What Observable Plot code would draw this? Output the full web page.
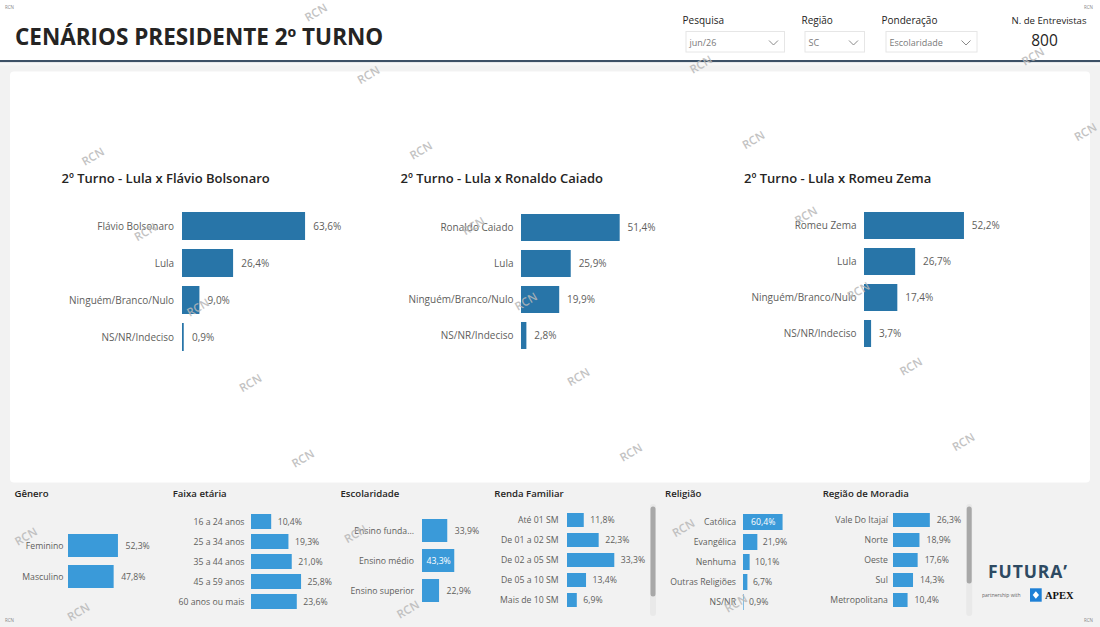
<!DOCTYPE html>
<html lang="pt-BR">
<head>
<meta charset="utf-8">
<script src="https://cdn.jsdelivr.net/npm/d3@7"></script>
<script src="https://cdn.jsdelivr.net/npm/@observablehq/plot@0.6"></script>
<style>
html,body{margin:0;padding:0;background:#f2f2f2;}
#root{position:relative;width:1100px;height:627px;overflow:hidden;background:#f2f2f2;font-family:"Open Sans","Noto Sans",sans-serif;}
#root svg{position:absolute;overflow:visible;}
</style>
</head>
<body>
<div id="root"></div>
<script>
// ---------- DATA ----------
const pageTitle = "CENÁRIOS PRESIDENTE 2º TURNO";
const interviews = 800;

const scenario1Title = "2º Turno - Lula x Flávio Bolsonaro";
const scenario1Cats = ["Flávio Bolsonaro", "Lula", "Ninguém/Branco/Nulo", "NS/NR/Indeciso"];
const scenario1Vals = [63.6, 26.4, 9.0, 0.9];

const scenario2Title = "2º Turno - Lula x Ronaldo Caiado";
const scenario2Cats = ["Ronaldo Caiado", "Lula", "Ninguém/Branco/Nulo", "NS/NR/Indeciso"];
const scenario2Vals = [51.4, 25.9, 19.9, 2.8];

const scenario3Title = "2º Turno - Lula x Romeu Zema";
const scenario3Cats = ["Romeu Zema", "Lula", "Ninguém/Branco/Nulo", "NS/NR/Indeciso"];
const scenario3Vals = [52.2, 26.7, 17.4, 3.7];

const generoCats = ["Feminino", "Masculino"];
const generoVals = [52.3, 47.8];

const faixaCats = ["16 a 24 anos", "25 a 34 anos", "35 a 44 anos", "45 a 59 anos", "60 anos ou mais"];
const faixaVals = [10.4, 19.3, 21.0, 25.8, 23.6];

const escolaridadeCats = ["Ensino fundamental", "Ensino médio", "Ensino superior"];
const escolaridadeVals = [33.9, 43.3, 22.9];

const rendaCats = ["Até 01 SM", "De 01 a 02 SM", "De 02 a 05 SM", "De 05 a 10 SM", "Mais de 10 SM"];
const rendaVals = [11.8, 22.3, 33.3, 13.4, 6.9];

const religiaoCats = ["Católica", "Evangélica", "Nenhuma", "Outras Religiões", "NS/NR"];
const religiaoVals = [60.4, 21.9, 10.1, 6.7, 0.9];

const regiaoCats = ["Vale Do Itajaí", "Norte", "Oeste", "Sul", "Metropolitana"];
const regiaoVals = [26.3, 18.9, 17.6, 14.3, 10.4];

const slicerLabels = ["Pesquisa", "Região", "Ponderação"];
const slicerValues = ["jun/26", "SC", "Escolaridade"];

// ---------- HELPERS ----------
const FONT = '"Open Sans","Noto Sans",sans-serif';
const root = document.getElementById("root");
const NS = "http://www.w3.org/2000/svg";
const fmt = v => v.toFixed(1).replace(".", ",") + "%";

function layer(z) {
  const s = document.createElementNS(NS, "svg");
  s.setAttribute("width", 1100);
  s.setAttribute("height", 627);
  s.style.cssText = `left:0;top:0;z-index:${z};pointer-events:none;`;
  root.appendChild(s);
  return s;
}
function el(parent, tag, attrs, text) {
  const e = document.createElementNS(NS, tag);
  for (const k in attrs) e.setAttribute(k, attrs[k]);
  if (text != null) e.textContent = text;
  parent.appendChild(e);
  return e;
}
function T(parent, x, y, str, size, o = {}) {
  return el(parent, "text", {
    x, y, "font-size": size, "font-family": o.family || FONT,
    "font-weight": o.weight || 400, fill: o.fill || "#252423",
    "text-anchor": o.anchor || "start",
    ...(o.ls ? {"letter-spacing": o.ls} : {}),
    ...(o.transform ? {transform: o.transform} : {}),
    ...(o.opacity ? {opacity: o.opacity} : {})
  }, str);
}

function hbar(o) {
  const n = o.cats.length;
  const pI = 1 - o.barH / o.step;
  const data = o.cats.map((c, i) => ({c, v: o.vals[i]}));
  const inside = o.inside || [];
  const ml = o.marginLeft;
  const r0 = 4, r1 = r0 + o.step * (n - pI);
  const width = ml + 100 * o.k + 60;
  const height = r1 + 4;
  const chart = Plot.plot({
    width, height,
    marginLeft: ml, marginRight: 0, marginTop: 0, marginBottom: 0,
    x: {domain: [0, 100], range: [ml, ml + 100 * o.k], axis: null},
    y: {domain: o.cats, range: [r0, r1], paddingInner: pI, paddingOuter: 0},
    style: {fontFamily: FONT, color: "#605e5c", background: "transparent", overflow: "visible", fontSize: o.fs + "px"},
    marks: [
      Plot.axisY({tickSize: 0, tickPadding: o.pad, fontSize: o.fs, label: null, tickFormat: o.tickFormat || (d => d)}),
      Plot.barX(data, {x: "v", y: "c", fill: o.color}),
      Plot.text(data.filter(d => !inside.includes(d.c)), {
        x: "v", y: "c", text: d => fmt(d.v), dx: o.dx, textAnchor: "start",
        fontSize: o.vfs, fill: "#605e5c"
      }),
      Plot.text(data.filter(d => inside.includes(d.c)), {
        x: d => d.v / 2, y: "c", text: d => fmt(d.v), textAnchor: "middle",
        fontSize: o.vfs, fill: "white"
      })
    ]
  });
  chart.style.position = "absolute";
  chart.style.left = (o.barStart - ml) + "px";
  chart.style.top = (o.firstTop - r0) + "px";
  chart.style.zIndex = 1;
  root.appendChild(chart);
}

// ---------- BACKGROUND / STATIC LAYER ----------
const bg = layer(0);
el(bg, "rect", {x: 0, y: 0, width: 1100, height: 60, fill: "#ffffff"});
el(bg, "rect", {x: 0, y: 60, width: 1100, height: 2.3, fill: "#3d5166"});
el(bg, "rect", {x: 0, y: 62.3, width: 1100, height: 3, fill: "#f7f7f7"});
el(bg, "rect", {x: 10, y: 71.5, width: 1080, height: 411, rx: 4, fill: "#ffffff"});

T(bg, 15, 45, pageTitle, 22.5, {weight: 700, fill: "#252423"});

// slicers
const slicerGeom = [
  {lx: 682.5, bx: 686, bw: 98.5},
  {lx: 801.5, bx: 805, bw: 59.5},
  {lx: 881.5, bx: 886, bw: 91}
];
slicerGeom.forEach((g, i) => {
  T(bg, g.lx, 24, slicerLabels[i], 10, {fill: "#252423"});
  el(bg, "rect", {x: g.bx, y: 31.5, width: g.bw, height: 20.5, fill: "#fff", stroke: "#e6e6e6", "stroke-width": 1});
  T(bg, g.bx + 3.5, 45.5, slicerValues[i], 9, {fill: "#7a7a7a"});
  const cx = g.bx + g.bw - 11, cy = 43;
  el(bg, "polyline", {points: `${cx - 4.5},${cy - 2.5} ${cx},${cy + 2} ${cx + 4.5},${cy - 2.5}`, fill: "none", stroke: "#8a8a8a", "stroke-width": 1});
});
T(bg, 1049, 24, "N. de Entrevistas", 9.6, {anchor: "middle", fill: "#252423"});
T(bg, 1044.5, 46, String(interviews), 15.5, {anchor: "middle", fill: "#252423"});

// chart titles
T(bg, 61.5, 182.5, scenario1Title, 13, {weight: 600});
T(bg, 400.5, 183, scenario2Title, 13, {weight: 600});
T(bg, 744, 182.5, scenario3Title, 13, {weight: 600});

// section titles
[["Gênero", 14.5], ["Faixa etária", 172.7], ["Escolaridade", 340.5], ["Renda Familiar", 494.3], ["Religião", 665], ["Região de Moradia", 822.7]]
  .forEach(([s, x]) => T(bg, x, 497, s, 9.6, {weight: 600}));

// scrollbars
el(bg, "rect", {x: 650, y: 504, width: 6, height: 112, rx: 3, fill: "#e9e9e9"});
el(bg, "rect", {x: 650.5, y: 506.5, width: 5, height: 90, rx: 2.5, fill: "#a8a8a8"});
el(bg, "rect", {x: 966.2, y: 504, width: 6, height: 112, rx: 3, fill: "#e9e9e9"});
el(bg, "rect", {x: 966.7, y: 506.5, width: 5, height: 77, rx: 2.5, fill: "#a8a8a8"});

// logo
T(bg, 988, 577.5, "FUTURA’", 17.5, {weight: 700, fill: "#2e4a62", ls: 0.9});
T(bg, 982, 597, "partnership with", 5, {fill: "#666"});
el(bg, "rect", {x: 1030, y: 588.3, width: 11.7, height: 13.4, fill: "#1e80d6"});
el(bg, "polygon", {points: "1035.85,591.2 1039,595 1035.85,598.8 1032.7,595", fill: "#fff"});
T(bg, 1045, 598.5, "APEX", 10.5, {weight: 700, fill: "#111", family: '"Liberation Serif","DejaVu Serif",serif'});

// tiny corner marks
[[5, 8.5, "start"], [1093, 8.5, "end"], [5, 621.5, "start"], [1093, 621.5, "end"]]
  .forEach(([x, y, a]) => T(bg, x, y, "RCN", 4.5, {fill: "#888", anchor: a}));

// ---------- CHARTS ----------
const TOPC = "#2875a8", BOTC = "#3a9ad9";

hbar({cats: scenario1Cats, vals: scenario1Vals, barStart: 181.7, k: 1.935, firstTop: 212.3, step: 37.1, barH: 27.8,
  marginLeft: 125, pad: 8.4, fs: 10, vfs: 10, dx: 7.7, color: TOPC});
hbar({cats: scenario2Cats, vals: scenario2Vals, barStart: 520.7, k: 1.92, firstTop: 213.3, step: 36.6, barH: 27.4,
  marginLeft: 125, pad: 8, fs: 10, vfs: 10, dx: 7.4, color: TOPC});
hbar({cats: scenario3Cats, vals: scenario3Vals, barStart: 864, k: 1.915, firstTop: 212.3, step: 36.1, barH: 27,
  marginLeft: 125, pad: 8, fs: 10, vfs: 10, dx: 7.4, color: TOPC});

hbar({cats: generoCats, vals: generoVals, barStart: 68.3, k: 0.955, firstTop: 533.3, step: 31.7, barH: 23.3,
  marginLeft: 60, pad: 5, fs: 8.7, vfs: 8.7, dx: 7, color: BOTC});
hbar({cats: faixaCats, vals: faixaVals, barStart: 250.5, k: 1.94, firstTop: 513.5, step: 20.1, barH: 15.5,
  marginLeft: 80, pad: 7, fs: 8.7, vfs: 8.7, dx: 6, color: BOTC});
hbar({cats: escolaridadeCats, vals: escolaridadeVals, barStart: 422, k: 0.745, firstTop: 518.3, step: 30.8, barH: 23.4,
  marginLeft: 80, pad: 8.5, fs: 8.7, vfs: 8.7, dx: 7, color: BOTC, inside: ["Ensino médio"],
  tickFormat: d => d.length > 15 ? d.slice(0, 12) + "..." : d});
hbar({cats: rendaCats, vals: rendaVals, barStart: 566.7, k: 1.42, firstTop: 513.3, step: 20.2, barH: 14,
  marginLeft: 80, pad: 9, fs: 8.7, vfs: 8.7, dx: 6, color: BOTC});
hbar({cats: religiaoCats, vals: religiaoVals, barStart: 742.7, k: 0.655, firstTop: 513.5, step: 20, barH: 15.5,
  marginLeft: 80, pad: 7.5, fs: 8.7, vfs: 8.7, dx: 5, color: BOTC, inside: ["Católica"]});
hbar({cats: regiaoCats, vals: regiaoVals, barStart: 893.3, k: 1.40, firstTop: 513.3, step: 20, barH: 14.3,
  marginLeft: 80, pad: 5.6, fs: 8.7, vfs: 8.7, dx: 6.5, color: BOTC});

// ---------- WATERMARK LAYER ----------
const wm = layer(3);
const chains = [[318, 3, 9], [95, 160, 7], [703, 68, 6], [1035, 60, 2], [28, 540, 2]];
chains.forEach(([x0, y0, n]) => {
  for (let i = 0; i < n; i++) {
    const x = x0 + i * 52.5, y = Math.max(y0 + i * 75.5, 16);
    T(wm, x, y, "RCN", 11.5, {weight: 600, fill: "#b8b8b8", anchor: "middle", opacity: 0.85,
      transform: `rotate(-30 ${x} ${y})`});
  }
});
</script>
</body>
</html>
